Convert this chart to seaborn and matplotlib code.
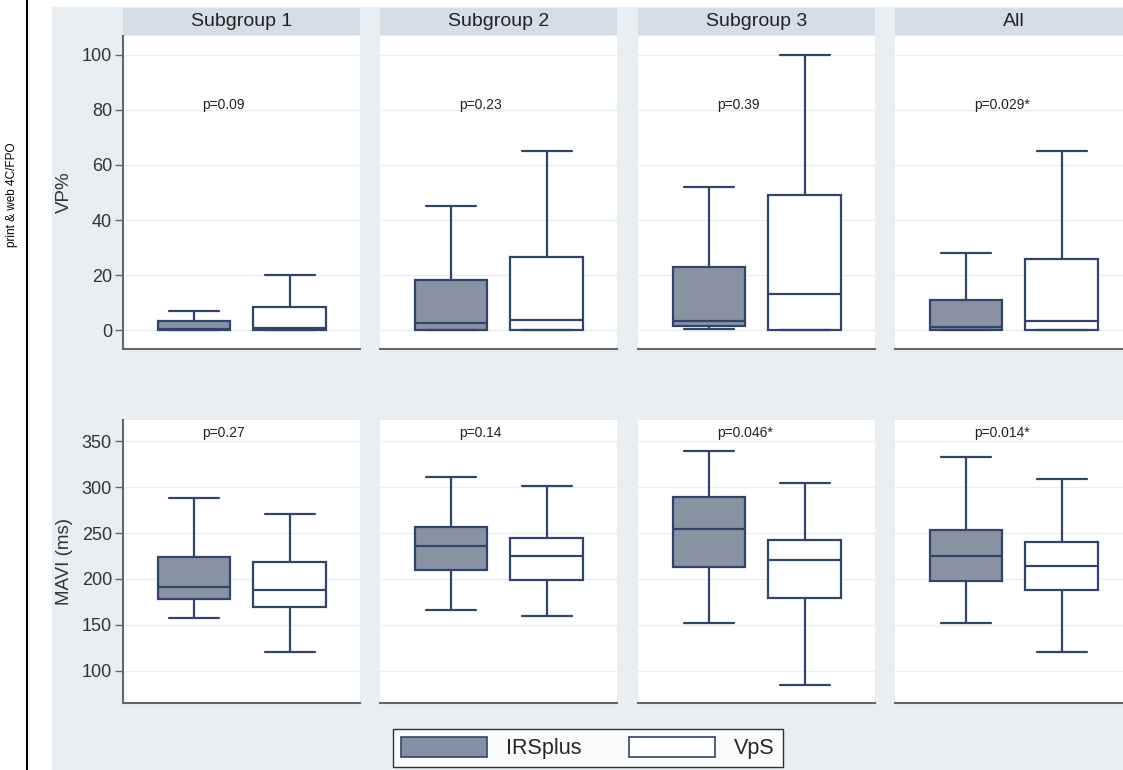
import matplotlib
matplotlib.use("Agg")
import matplotlib.pyplot as plt
from matplotlib.patches import Rectangle, Patch
from matplotlib.lines import Line2D
import seaborn as sns
import pandas as pd
import numpy as np

groups = ["Subgroup 1", "Subgroup 2", "Subgroup 3", "All"]
treatments = ["IRSplus", "VpS"]

# five-number summaries: min, q1, median, q3, max
vp_irs = [[0, 0, 0.5, 3.4, 7], [0, 0, 2.7, 18.2, 45], [0.4, 1.5, 3.3, 23, 52], [0, 0, 1, 11, 28]]
vp_vps = [[0, 0, 0.8, 8.2, 20], [0, 0, 3.5, 26.5, 65], [0, 0, 13, 49, 100], [0, 0, 3.3, 26, 65]]
mavi_irs = [[158, 178, 191, 224, 288], [166, 210, 236, 257, 311],
            [152, 213, 254, 289, 339], [152, 198, 225, 253, 333]]
mavi_vps = [[121, 170, 188, 218, 271], [160, 199, 225, 245, 301],
            [85, 179, 221, 242, 304], [121, 188, 214, 240, 309]]
p_vp = ["p=0.09", "p=0.23", "p=0.39", "p=0.029*"]
p_mavi = ["p=0.27", "p=0.14", "p=0.046*", "p=0.014*"]

sns.set_theme(style="white")
plt.rcParams["font.family"] = ["Liberation Sans", "DejaVu Sans"]

BG = "#e8eef1"
STRIP = "#d5dee6"
GRID = "#e8eff1"
EDGE = "#33446b"
FILL = "#8590a7"
SPINE = "#666666"

W, H = 1123, 770
fig = plt.figure(figsize=(W / 100, H / 100), dpi=100, facecolor="white")

# pale background and side note
fig.patches.append(Rectangle((52 / W, 0), 1 - 52 / W, (H - 7) / H, transform=fig.transFigure,
                             facecolor=BG, edgecolor="none", zorder=-10))
fig.add_artist(Line2D([27 / W, 27 / W], [0, 1], transform=fig.transFigure, color="black", lw=1.5))
fig.text(12 / W, 1 - 195 / H, "print & web 4C/FPO", rotation=90, ha="center", va="center",
         fontsize=8.5, color="black")

col_x = [123, 380, 638, 895]
col_w = 237
rows = [
    dict(top=36, bottom=349, irs=vp_irs, vps=vp_vps, p=p_vp, ylim=(-6.9, 106.9),
         ticks=[0, 20, 40, 60, 80, 100], label="VP%", py=0.78),
    dict(top=420, bottom=703, irs=mavi_irs, vps=mavi_vps, p=p_mavi, ylim=(65, 373),
         ticks=[100, 150, 200, 250, 300, 350], label="MAVI (ms)", py=0.955),
]

for r, row in enumerate(rows):
    for c, g in enumerate(groups):
        ax = fig.add_axes([col_x[c] / W, 1 - row["bottom"] / H, col_w / W,
                           (row["bottom"] - row["top"]) / H])
        ax.set_facecolor("white")
        df = pd.DataFrame({
            "treatment": [treatments[0]] * 5 + [treatments[1]] * 5,
            "value": list(row["irs"][c]) + list(row["vps"][c]),
        })
        kw = dict(data=df, x="treatment", y="value", hue="treatment", order=treatments,
                  hue_order=treatments, palette=[FILL, "white"], whis=(0, 100),
                  width=0.76, linecolor=EDGE, linewidth=1.6, showfliers=False,
                  legend=False, ax=ax)
        try:
            sns.boxplot(capwidths=0.52, **kw)
        except TypeError:
            ax.cla()
            sns.boxplot(**kw)
        ax.set_xlim(-0.74, 1.73)
        ax.set_ylim(*row["ylim"])
        ax.set_yticks(row["ticks"])
        ax.yaxis.grid(True, color=GRID, lw=1)
        ax.set_axisbelow(True)
        ax.set_xticks([])
        ax.set_xlabel("")
        for s in ["top", "right"]:
            ax.spines[s].set_visible(False)
        ax.spines["bottom"].set_color(SPINE)
        ax.spines["bottom"].set_linewidth(1.5)
        if c == 0:
            ax.spines["left"].set_color(SPINE)
            ax.spines["left"].set_linewidth(1.5)
            ax.tick_params(axis="y", direction="out", length=6, width=1, color=SPINE,
                           labelsize=13, labelcolor="#333333", left=True, pad=2)
            ax.set_ylabel(row["label"], fontsize=13.5, color="#333333", labelpad=6)
        else:
            ax.spines["left"].set_visible(False)
            ax.tick_params(axis="y", left=False, labelleft=False)
            ax.set_ylabel("")
        ax.text(0.335, row["py"], row["p"][c], transform=ax.transAxes, ha="left",
                va="center", fontsize=10, color="#222222")
        if r == 0:
            fig.patches.append(Rectangle((col_x[c] / W, 1 - 35 / H), col_w / W, 27 / H,
                                         transform=fig.transFigure, facecolor=STRIP,
                                         edgecolor="none", zorder=1))
            fig.text((col_x[c] + col_w / 2) / W, 1 - 21.5 / H, g, ha="center", va="center",
                     fontsize=14, color="#222222", zorder=2)

handles = [Patch(facecolor=FILL, edgecolor=EDGE, lw=1.2, label=treatments[0]),
           Patch(facecolor="white", edgecolor=EDGE, lw=1.2, label=treatments[1])]
leg = fig.legend(handles=handles, loc="center left", bbox_to_anchor=(393 / W, 1 - 748 / H),
                 ncol=2, fontsize=15.5, handlelength=4.0, handleheight=1.1, columnspacing=2.2,
                 handletextpad=0.9, frameon=True, fancybox=False, borderpad=0.35,
                 borderaxespad=0)
leg.get_frame().set_edgecolor("black")
leg.get_frame().set_linewidth(1)
leg.get_frame().set_facecolor("white")

fig.savefig("out.png", dpi=100, facecolor=fig.get_facecolor())
